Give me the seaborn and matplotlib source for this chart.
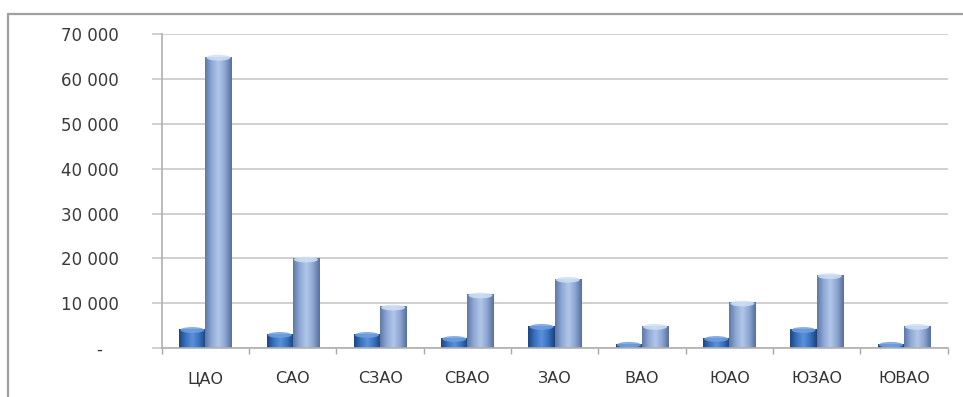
import numpy as np
import pandas as pd
import matplotlib
matplotlib.use("Agg")
import matplotlib.pyplot as plt
from matplotlib.lines import Line2D
from matplotlib.patches import Ellipse
from matplotlib.ticker import FuncFormatter, FixedLocator
import seaborn as sns

districts = ["ЦАО", "САО", "СЗАО", "СВАО", "ЗАО", "ВАО", "ЮАО", "ЮЗАО", "ЮВАО"]
series_1 = [4300, 3200, 3200, 2300, 5000, 1000, 2300, 4300, 1000]
series_2 = [65000, 20000, 9300, 12000, 15500, 5000, 10200, 16300, 5000]
series_names = ["Ряд 1", "Ряд 2"]
y_ticks = [0, 10000, 20000, 30000, 40000, 50000, 60000, 70000]

df = pd.DataFrame({
    "district": districts * 2,
    "value": series_1 + series_2,
    "series": [series_names[0]] * len(districts) + [series_names[1]] * len(districts),
})

sns.set_theme(style="white")
plt.rcParams["font.family"] = ["DejaVu Sans"]

fig = plt.figure(figsize=(9.63, 3.97), dpi=100)
ax = fig.add_axes([0.168, 0.123, 0.816, 0.791])

palette = {series_names[0]: "#2F62A8", series_names[1]: "#8AA5D2"}
sns.barplot(data=df, x="district", y="value", hue="series", order=districts,
            hue_order=series_names, palette=palette, width=0.6, gap=0,
            dodge=True, legend=False, ax=ax, saturation=1, linewidth=0,
            err_kws={"linewidth": 0})

# cylinder-like shading for each bar
shades = {
    series_names[0]: ["#1B4683", "#3A72C0", "#5C92DA", "#3A72C0", "#1A427C"],
    series_names[1]: ["#5D77A8", "#8FAAD6", "#B2C6E8", "#8DA7D2", "#566F9E"],
}
cap_colors = {series_names[0]: "#6FA0E0", series_names[1]: "#CFE0F5"}
bars = [p for p in ax.patches if p.get_height() > 0]
bars.sort(key=lambda p: p.get_x())
for p in bars:
    x0, w, h = p.get_x(), p.get_width(), p.get_height()
    fc = matplotlib.colors.to_hex(p.get_facecolor())
    name = series_names[0] if fc.lower() == palette[series_names[0]].lower() else series_names[1]
    cmap = matplotlib.colors.LinearSegmentedColormap.from_list("cyl", shades[name])
    grad = np.linspace(0, 1, 64).reshape(1, -1)
    im = ax.imshow(grad, cmap=cmap, aspect="auto", extent=[x0, x0 + w, 0, h],
                   origin="lower", zorder=p.get_zorder() + 0.1, interpolation="bicubic")
    im.set_clip_path(p)
    ax.add_patch(Ellipse((x0 + w / 2, h - 250), w * 0.92, 1300,
                         facecolor=cap_colors[name], edgecolor="none",
                         zorder=p.get_zorder() + 0.2, alpha=0.85))

ax.set_xlim(-0.5, len(districts) - 0.5)
ax.set_ylim(0, 70000)
ax.set_yticks(y_ticks)
ax.yaxis.set_major_formatter(FuncFormatter(
    lambda v, _: "-   " if v == 0 else f"{int(v):,}".replace(",", " ")))

ax.grid(axis="y", color="#C8C8C8", linewidth=1.2)
ax.set_axisbelow(True)

# category boundaries as major ticks, names on minor ticks
ax.xaxis.set_major_locator(FixedLocator(np.arange(-0.5, len(districts), 1.0)))
ax.xaxis.set_minor_locator(FixedLocator(np.arange(len(districts))))
ax.set_xticklabels([], minor=False)
ax.set_xticklabels(districts, minor=True, va="baseline")
ax.tick_params(axis="x", which="major", length=4, width=1, color="#A8A8A8", bottom=True)
ax.tick_params(axis="x", which="minor", length=0, pad=25, labelsize=11.5, labelcolor="#333333")
ax.tick_params(axis="y", length=7, width=1.2, color="#C8C8C8", left=True, pad=24,
               labelsize=12, labelcolor="#3A3A3A")

ax.set_xlabel("")
ax.set_ylabel("")
for side in ["top", "right"]:
    ax.spines[side].set_visible(False)
for side in ["left", "bottom"]:
    ax.spines[side].set_color("#B0B0B0")
    ax.spines[side].set_linewidth(1.2)

# outer chart frame (left and top edges)
fig.add_artist(Line2D([8 / 963, 8 / 963], [0, 1 - 14 / 397], color="#A0A0A0",
                      linewidth=1.6, transform=fig.transFigure))
fig.add_artist(Line2D([8 / 963, 1], [1 - 14 / 397, 1 - 14 / 397], color="#A0A0A0",
                      linewidth=1.6, transform=fig.transFigure))

fig.savefig("out.png", dpi=100, facecolor="white")
